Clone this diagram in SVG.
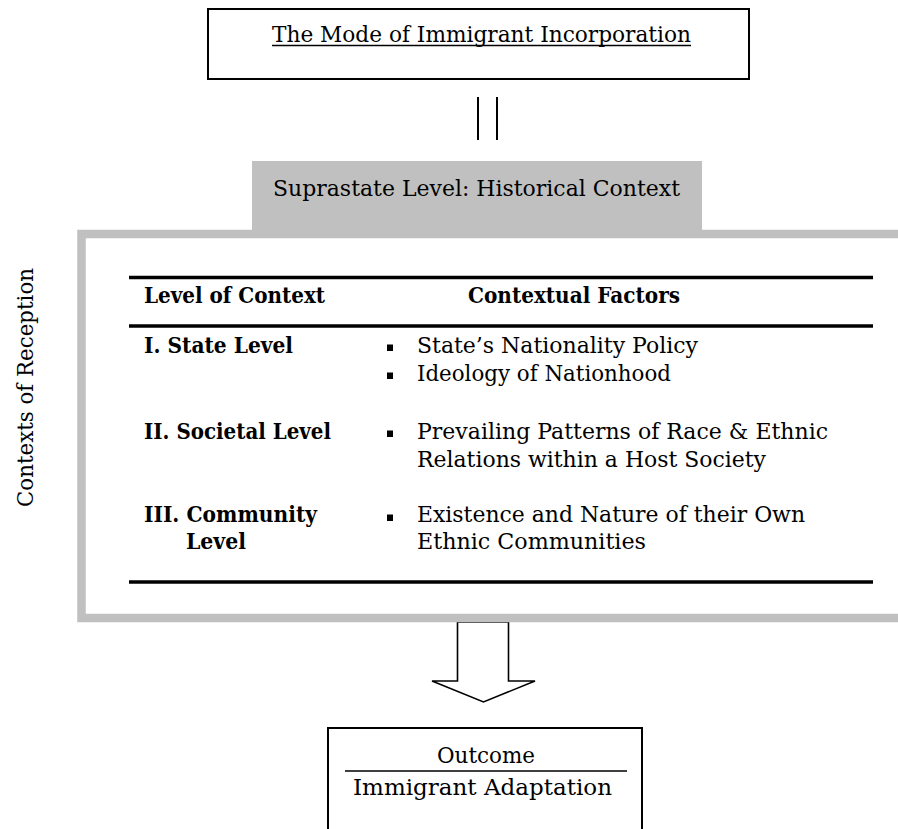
<svg xmlns="http://www.w3.org/2000/svg" width="898" height="829" viewBox="0 0 898 829">
<style>
text{font-family:"DejaVu Serif","Liberation Serif",serif;font-size:22.5px;fill:#000}
.b{font-weight:bold}
.box{fill:#fff;stroke:#000;stroke-width:2}
.rule{stroke:#000;stroke-width:3.5}
.gray{fill:#c0c0c0}
</style>
<rect width="898" height="829" fill="#fff"/>
<g id="mode">
<rect class="box" x="208" y="9" width="541" height="70"/>
<text x="272" y="42" textLength="419" lengthAdjust="spacingAndGlyphs">The Mode of Immigrant Incorporation</text>
<line x1="272" y1="45.5" x2="691" y2="45.5" stroke="#000" stroke-width="1.6"/>
</g>
<g id="connectors">
<line x1="478" y1="97" x2="478" y2="140" stroke="#000" stroke-width="2"/>
<line x1="497" y1="97" x2="497" y2="140" stroke="#000" stroke-width="2"/>
<path d="M457.5,622 L508.5,622 L508.5,681 L535,681 L483.5,702 L432,681 L457.5,681 Z" fill="#fff" stroke="#000" stroke-width="1.6" stroke-linejoin="miter"/>
</g>
<g id="context">
<rect class="gray" x="252" y="161" width="450" height="77"/>
<rect x="81.5" y="234" width="830" height="384" fill="none" stroke="#c0c0c0" stroke-width="8.5"/>
<text x="273" y="196" textLength="407" lengthAdjust="spacingAndGlyphs">Suprastate Level: Historical Context</text>
</g>
<g id="reception-label">
<text transform="translate(33,387.5) rotate(-90)" text-anchor="middle" textLength="239" lengthAdjust="spacingAndGlyphs">Contexts of Reception</text>
</g>
<g id="table">
<line class="rule" x1="129" y1="277.5" x2="873" y2="277.5"/>
<line class="rule" x1="129" y1="326" x2="873" y2="326"/>
<line class="rule" x1="129" y1="582" x2="873" y2="582"/>
<text class="b" x="144" y="303" textLength="181" lengthAdjust="spacingAndGlyphs">Level of Context</text>
<text class="b" x="468" y="303" textLength="212" lengthAdjust="spacingAndGlyphs">Contextual Factors</text>
<text class="b" x="144" y="352.5" textLength="149" lengthAdjust="spacingAndGlyphs">I. State Level</text>
<text class="b" x="144" y="438.5" textLength="187" lengthAdjust="spacingAndGlyphs">II. Societal Level</text>
<text class="b" x="144" y="521.5" textLength="173" lengthAdjust="spacingAndGlyphs">III. Community</text>
<text class="b" x="186" y="548.5" textLength="60" lengthAdjust="spacingAndGlyphs">Level</text>
<g fill="#000">
<rect x="387" y="344.5" width="6" height="6.5"/>
<rect x="387" y="372.5" width="6" height="6.5"/>
<rect x="387" y="430.5" width="6" height="6.5"/>
<rect x="387" y="514.5" width="6" height="6.5"/>
</g>
<text x="417" y="352.5" textLength="281" lengthAdjust="spacingAndGlyphs">State’s Nationality Policy</text>
<text x="417" y="380.5" textLength="254" lengthAdjust="spacingAndGlyphs">Ideology of Nationhood</text>
<text x="417" y="438.5" textLength="411" lengthAdjust="spacingAndGlyphs">Prevailing Patterns of Race &amp; Ethnic</text>
<text x="417" y="466.5" textLength="349" lengthAdjust="spacingAndGlyphs">Relations within a Host Society</text>
<text x="417" y="521.5" textLength="388" lengthAdjust="spacingAndGlyphs">Existence and Nature of their Own</text>
<text x="417" y="548.5" textLength="229" lengthAdjust="spacingAndGlyphs">Ethnic Communities</text>
</g>
<g id="outcome">
<rect class="box" x="328" y="728" width="314" height="110"/>
<text x="437" y="763" textLength="98" lengthAdjust="spacingAndGlyphs">Outcome</text>
<line x1="345" y1="771" x2="627" y2="771" stroke="#000" stroke-width="1.6"/>
<text x="353" y="795" textLength="259" lengthAdjust="spacingAndGlyphs">Immigrant Adaptation</text>
</g>
</svg>
